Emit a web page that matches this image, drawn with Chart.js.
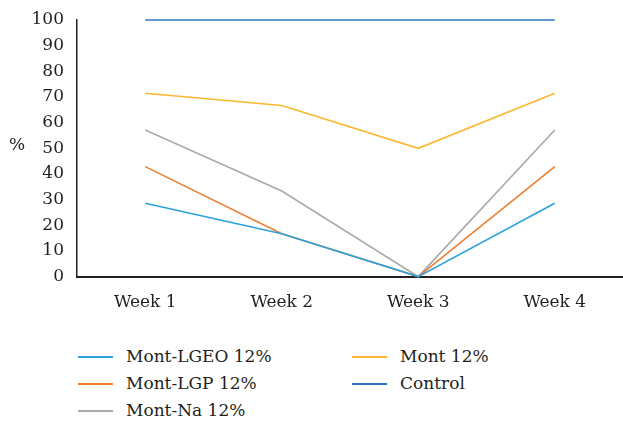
<!DOCTYPE html>
<html>
<head>
<meta charset="utf-8">
<script src="https://cdn.jsdelivr.net/npm/chart.js@4/dist/chart.umd.min.js"></script>
<style>
  html, body { margin: 0; padding: 0; background: #fff; }
  #wrap { position: relative; width: 623px; height: 421px; }
  #chartBox { position: absolute; left: 0; top: 0; width: 623px; height: 329px; }
  .legend { position: absolute; left: 0; top: 0; font-family: "DejaVu Serif", "Liberation Serif", serif; font-size: 17px; color: #231f20; }
  .legend .item { position: absolute; white-space: nowrap; height: 20px; line-height: 20px; }
  .legend .swatch { position: absolute; left: 0; top: 10px; width: 35px; height: 0; border-top: 2px solid; }
  .legend .label { position: absolute; left: 48px; top: 0; }
</style>
</head>
<body>
<div id="wrap">
  <div id="chartBox"><canvas id="lineChart"></canvas></div>
  <div class="legend" id="legend"></div>
</div>
<script>
// Categorie e valori
const weeks = ['Week 1', 'Week 2', 'Week 3', 'Week 4'];
const yTicks = [0, 10, 20, 30, 40, 50, 60, 70, 80, 90, 100];

const montLgeo = [28.57, 16.67, 0, 28.57];
const montLgp = [42.86, 16.67, 0, 42.86];
const montNa = [57.14, 33.33, 0, 57.14];
const mont = [71.43, 66.67, 50, 71.43];
const control = [100, 100, 100, 100];

const series = [
    { label: 'Mont-LGEO 12%', data: montLgeo, color: '#2aa2de' },
    { label: 'Mont-LGP 12%', data: montLgp, color: '#ed7d31' },
    { label: 'Mont-Na 12%', data: montNa, color: '#a9a9a9' },
    { label: 'Mont 12%', data: mont, color: '#fbb72f' },
    { label: 'Control', data: control, color: '#2e74c0' }
];

const serif = '"DejaVu Serif", "Liberation Serif", serif';

// Etichetta "%" orizzontale a sinistra dell'asse y
const percentLabel = {
    id: 'percentLabel',
    afterDraw(chart) {
        const ctx = chart.ctx;
        const y = chart.scales.y.getPixelForValue(50);
        ctx.save();
        ctx.font = '17px ' + serif;
        ctx.fillStyle = '#231f20';
        ctx.textAlign = 'left';
        ctx.textBaseline = 'middle';
        ctx.fillText('%', 9, y - 3);
        ctx.restore();
    }
};

function initChart() {
    const ctx = document.getElementById('lineChart').getContext('2d');
    new Chart(ctx, {
        type: 'line',
        data: {
            labels: weeks,
            datasets: series.map(s => ({
                label: s.label,
                data: s.data,
                borderColor: s.color,
                backgroundColor: s.color,
                borderWidth: 1.6,
                pointRadius: 0,
                tension: 0,
                fill: false,
                clip: false
            }))
        },
        options: {
            responsive: true,
            maintainAspectRatio: false,
            animation: false,
            layout: { padding: { top: 20, right: 0, left: 0, bottom: 0 } },
            plugins: {
                legend: { display: false },
                tooltip: { enabled: false }
            },
            scales: {
                x: {
                    offset: true,
                    grid: { display: false, drawTicks: false },
                    border: { display: true, color: '#231f20', width: 2 },
                    ticks: {
                        color: '#231f20',
                        font: { family: serif, size: 17 },
                        padding: 16,
                        maxRotation: 0
                    }
                },
                y: {
                    min: 0,
                    max: 100,
                    afterBuildTicks: scale => { scale.ticks = yTicks.map(v => ({ value: v })); },
                    afterFit: scale => {
                        scale.width = 77;
                        scale.paddingTop = 0;
                    },
                    grid: { display: false, drawTicks: false },
                    border: { display: true, color: '#231f20', width: 1.5 },
                    ticks: {
                        color: '#231f20',
                        font: { family: serif, size: 17 },
                        padding: 13,
                        autoSkip: false
                    }
                }
            }
        },
        plugins: [percentLabel]
    });
}

// Legenda HTML in due colonne
function buildLegend() {
    const legend = document.getElementById('legend');
    const pos = [
        [78, 346], [78, 373], [78, 400],
        [352, 346], [352, 373]
    ];
    series.forEach((s, i) => {
        const item = document.createElement('div');
        item.className = 'item';
        item.style.left = pos[i][0] + 'px';
        item.style.top = pos[i][1] + 'px';
        item.innerHTML = '<span class="swatch" style="border-color:' + s.color + '"></span><span class="label">' + s.label + '</span>';
        legend.appendChild(item);
    });
}

document.addEventListener('DOMContentLoaded', function() {
    initChart();
    buildLegend();
});
</script>
</body>
</html>
